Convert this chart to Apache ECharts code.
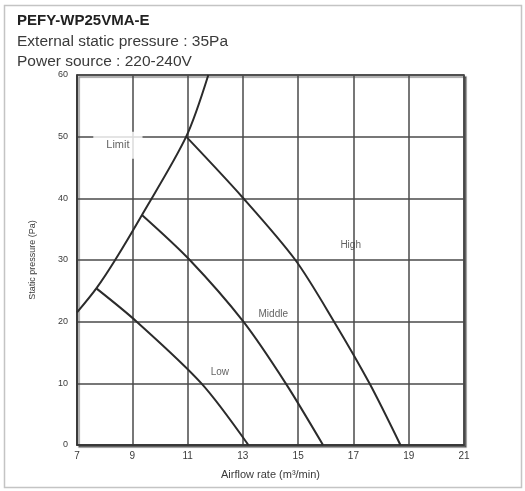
<!DOCTYPE html>
<html>
<head>
<meta charset="utf-8">
<script src="https://cdn.jsdelivr.net/npm/echarts@6/dist/echarts.min.js"></script>
<style>
  html, body { margin: 0; padding: 0; background: #fff; }
  #chart { width: 525px; height: 491px; }
</style>
</head>
<body>
<div id="chart"></div>
<script>
// tick labels
var flowTicks = [7, 9, 11, 13, 15, 17, 19, 21];
var pressureTicks = [0, 10, 20, 30, 40, 50, 60];

// curves: airflow (m3/min) / static pressure (Pa)
var limitFlow     = [7, 7.7, 8.38, 9.35, 10.95, 11.75];
var limitPressure = [21.5, 25.4, 30, 37.3, 50, 60];

var highFlow      = [10.95, 13.0, 14.9, 16.3, 17.58, 18.7];
var highPressure  = [50, 40.1, 30, 20, 10, 0];

var middleFlow    = [9.35, 11.08, 13.02, 14.55, 15.9];
var middlePressure= [37.3, 30, 20, 10, 0];

var lowFlow       = [7.7, 9.16, 11.5, 13.2];
var lowPressure   = [25.4, 20, 10, 0];

// curve names and where they sit on the chart
var noteNames    = ['High', 'Middle', 'Low', 'Limit'];
var noteFlow     = [16.9, 14.1, 12.17, 8.48];
var notePressure = [32.4, 21.2, 11.8, 48.6];

function pairs(xs, ys) {
    return xs.map(function (x, i) { return [x, ys[i]]; });
}

var lineColor = '#2b2b2b';
var gridColor = '#4a4a4a';
var textColor = '#3a3a3a';

function curve(name, xs, ys) {
    return {
        name: name,
        type: 'line',
        data: pairs(xs, ys),
        smooth: 0.3,
        symbol: 'none',
        lineStyle: { color: lineColor, width: 2 },
        z: 3
    };
}

var myChart = echarts.init(document.getElementById('chart'));
myChart.setOption({
    animation: false,
    title: [
        {
            text: 'PEFY-WP25VMA-E',
            left: 12, top: 8,
            textStyle: { fontFamily: 'Liberation Sans', fontSize: 15, fontWeight: 'bold', color: '#222' }
        },
        {
            text: 'External static pressure : 35Pa',
            left: 12, top: 29,
            textStyle: { fontFamily: 'Liberation Sans', fontSize: 15.5, fontWeight: 'normal', color: textColor }
        },
        {
            text: 'Power source : 220-240V',
            left: 12, top: 49,
            textStyle: { fontFamily: 'Liberation Sans', fontSize: 15.5, fontWeight: 'normal', color: textColor }
        }
    ],
    graphic: [{
        type: 'rect',
        shape: { x: 4.5, y: 5.5, width: 517, height: 482 },
        style: { fill: 'none', stroke: '#c4c4c4', lineWidth: 1.5 },
        silent: true
    }],
    grid: {
        left: 77, right: 61, top: 75, bottom: 46,
        show: true,
        backgroundColor: '#fff',
        borderColor: '#333',
        borderWidth: 1.5,
        shadowColor: 'rgba(0,0,0,0.45)',
        shadowOffsetX: 2,
        shadowOffsetY: 2,
        shadowBlur: 1
    },
    xAxis: {
        type: 'value',
        min: 7,
        max: 21,
        name: 'Airflow rate (m³/min)',
        nameLocation: 'middle',
        nameGap: 24,
        nameTextStyle: { fontFamily: 'Liberation Sans', fontSize: 11, color: textColor },
        axisLine: { lineStyle: { color: '#333', width: 1.5 } },
        axisTick: { show: false, customValues: flowTicks },
        axisLabel: {
            customValues: flowTicks,
            margin: 6,
            fontFamily: 'Liberation Sans', fontSize: 10, color: textColor
        },
        splitLine: { show: true, lineStyle: { color: gridColor, width: 1.5 } }
    },
    yAxis: {
        type: 'value',
        min: 0,
        max: 60,
        interval: 10,
        name: 'Static pressure (Pa)',
        nameLocation: 'middle',
        nameGap: 40,
        nameTextStyle: { fontFamily: 'Liberation Sans', fontSize: 9, color: textColor },
        axisLine: { show: true, lineStyle: { color: '#333', width: 1.5 } },
        axisTick: { show: false },
        axisLabel: {
            margin: 9,
            fontFamily: 'Liberation Sans', fontSize: 9, color: textColor,
            formatter: function (v) { return pressureTicks.indexOf(v) >= 0 ? String(v) : ''; }
        },
        splitLine: { show: true, lineStyle: { color: gridColor, width: 1.5 } }
    },
    series: [
        curve('Limit', limitFlow, limitPressure),
        curve('High', highFlow, highPressure),
        curve('Middle', middleFlow, middlePressure),
        curve('Low', lowFlow, lowPressure),
        {
            name: 'notes',
            type: 'scatter',
            symbolSize: 0,
            z: 5,
            data: noteNames.map(function (n, i) {
                var item = { name: n, value: [noteFlow[i], notePressure[i]] };
                if (n === 'Limit') {
                    item.label = {
                        backgroundColor: '#fff',
                        padding: [8, 13],
                        fontSize: 11
                    };
                }
                return item;
            }),
            label: {
                show: true,
                position: 'inside',
                formatter: '{b}',
                fontFamily: 'Liberation Sans',
                fontSize: 10,
                color: textColor
            }
        }
    ]
});
</script>
</body>
</html>
